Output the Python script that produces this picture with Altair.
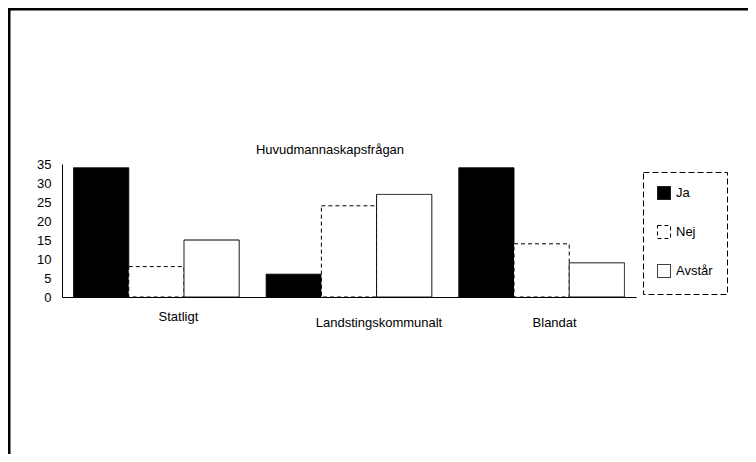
import altair as alt
import pandas as pd

categories = ["Statligt", "Landstingskommunalt", "Blandat"]
series = ["Ja", "Nej", "Avstår"]
ja = [34, 6, 34]
nej = [8, 24, 14]
avstar = [15, 27, 9]
y_ticks = [0, 5, 10, 15, 20, 25, 30, 35]
title_text = ["Huvudmannaskapsfrågan"]

rows = []
for i, c in enumerate(categories):
    for s, vals in zip(series, [ja, nej, avstar]):
        rows.append({"Kategori": c, "Svar": s, "Antal": vals[i]})
df = pd.DataFrame(rows)

FONT = "Liberation Sans"

label_offset = {
    "condition": [
        {"test": "datum.value === 'Statligt'", "value": 22},
        {"test": "datum.value === 'Landstingskommunalt'", "value": 30},
    ],
    "value": 13,
}
label_padding = {
    "condition": {"test": "datum.value === 'Statligt'", "value": 13},
    "value": 19,
}

bars = alt.Chart(df).mark_bar(strokeWidth=1).encode(
    x=alt.X(
        "Kategori:N",
        sort=categories,
        title=None,
        scale=alt.Scale(paddingInner=0.14, paddingOuter=0.06),
        axis=alt.Axis(
            labelAngle=0, ticks=False, domainColor="black", domainWidth=1,
            labelFont=FONT, labelFontSize=13, labelColor="black",
            labelPadding=label_padding, labelOffset=label_offset,
        ),
    ),
    xOffset=alt.XOffset("Svar:N", sort=series,
                        scale=alt.Scale(paddingInner=0, paddingOuter=0)),
    y=alt.Y(
        "Antal:Q",
        title=None,
        scale=alt.Scale(domain=[0, 35], nice=False),
        axis=alt.Axis(
            values=y_ticks, grid=False, ticks=False, domainColor="black",
            domainWidth=1, labelFont=FONT, labelFontSize=13,
            labelColor="black", labelPadding=11,
        ),
    ),
    fill=alt.Fill("Svar:N", sort=series, title=None,
                  scale=alt.Scale(domain=series, range=["black", "white", "white"])),
    stroke=alt.Stroke("Svar:N", sort=series, title=None,
                      scale=alt.Scale(domain=series, range=["black", "black", "black"])),
    strokeDash=alt.StrokeDash("Svar:N", sort=series, title=None,
                              scale=alt.Scale(domain=series, range=[[1, 0], [4, 3], [1, 0]])),
)

title_mark = alt.Chart(alt.Data(values=[{"t": t} for t in title_text])).mark_text(
    font=FONT, fontSize=13, color="black", align="center", baseline="middle"
).encode(text="t:N", x=alt.value(268), y=alt.value(-14))

frame_top = alt.Chart(alt.Data(values=[{}])).mark_rule(
    color="black", strokeWidth=3
).encode(x=alt.value(-54), x2=alt.value(686), y=alt.value(-155))

frame_left = alt.Chart(alt.Data(values=[{}])).mark_rule(
    color="black", strokeWidth=3
).encode(x=alt.value(-53), y=alt.value(-155), y2=alt.value(290))

chart = alt.layer(bars, title_mark, frame_top, frame_left).properties(
    width=574,
    height=133,
    background="white",
    autosize=alt.AutoSizeParams(type="none"),
    padding={"left": 54, "top": 156, "right": 112, "bottom": 157},
).configure_view(
    stroke=None
).configure_legend(
    orient="none", legendX=581, legendY=8,
    strokeColor="black", strokeDash=[6, 3], padding=14,
    rowPadding=21, symbolSize=169, symbolType="square",
    labelFont=FONT, labelFontSize=13, labelColor="black", labelOffset=5,
    symbolStrokeWidth=1,
)

chart.save("out.html", embed_options={"renderer": "svg", "actions": False})
